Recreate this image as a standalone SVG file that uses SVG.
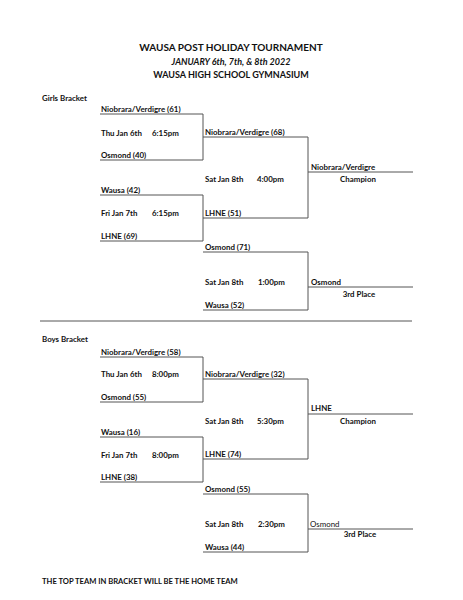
<svg xmlns="http://www.w3.org/2000/svg" width="463" height="600" viewBox="0 0 463 600">
<style>
text{font-family:Lato,"Open Sans","Liberation Sans",sans-serif;font-weight:bold;fill:#111;font-size:7.9px}
.h1{font-size:10px;text-anchor:middle}
.h2{font-size:9px;text-anchor:middle;font-style:italic}
.h3{font-size:9px;text-anchor:middle}
.mid{text-anchor:middle}
.reg{font-weight:normal}
.ft{font-size:7.6px}
.ln{fill:none;stroke:#555;stroke-width:1}
</style>
<rect width="463" height="600" fill="#fff"/>
<g id="header">
<text class="h1" x="231" y="51">WAUSA POST HOLIDAY TOURNAMENT</text>
<text class="h2" x="231" y="65">JANUARY 6th, 7th, &amp; 8th 2022</text>
<text class="h3" x="231" y="78">WAUSA HIGH SCHOOL GYMNASIUM</text>
</g>
<g id="connectors" class="ln">
<path class="ln" d="M100 114H203V160H100"/>
<path class="ln" d="M100 195H203V241H100"/>
<path class="ln" d="M203 137H308V218H203"/>
<path class="ln" d="M308 172H413"/>
<path class="ln" d="M203 252H308V310H203"/>
<path class="ln" d="M308 287H413"/>
<path class="ln" d="M40 321H412"/>
<path class="ln" d="M100 357H203V402H100"/>
<path class="ln" d="M100 437H203V482H100"/>
<path class="ln" d="M203 379H308V459H203"/>
<path class="ln" d="M308 414H413"/>
<path class="ln" d="M203 494H308V552H203"/>
<path class="ln" d="M308 529H413"/>
</g>
<g id="girls-label"><text x="42" y="101">Girls Bracket</text></g>
<g id="girls-game1">
<text x="101" y="112">Niobrara/Verdigre (61)</text>
<text x="101" y="136">Thu Jan 6th</text>
<text x="152" y="136">6:15pm</text>
<text x="101" y="158">Osmond (40)</text>
</g>
<g id="girls-game2">
<text x="101" y="193">Wausa (42)</text>
<text x="101" y="216">Fri Jan 7th</text>
<text x="152" y="216">6:15pm</text>
<text x="101" y="239">LHNE (69)</text>
</g>
<g id="girls-final">
<text x="205" y="135">Niobrara/Verdigre (68)</text>
<text x="205" y="182">Sat Jan 8th</text>
<text x="257" y="182">4:00pm</text>
<text x="205" y="216">LHNE (51)</text>
</g>
<g id="girls-champion">
<text x="311" y="170">Niobrara/Verdigre</text>
<text class="mid" x="358" y="182">Champion</text>
</g>
<g id="girls-third-game">
<text x="205" y="250">Osmond (71)</text>
<text x="205" y="285">Sat Jan 8th</text>
<text x="258" y="285">1:00pm</text>
<text x="205" y="308">Wausa (52)</text>
</g>
<g id="girls-third">
<text x="311" y="285">Osmond</text>
<text class="mid" x="359" y="297">3rd Place</text>
</g>
<g id="boys-label"><text x="42" y="342">Boys Bracket</text></g>
<g id="boys-game1">
<text x="101" y="355">Niobrara/Verdigre (58)</text>
<text x="101" y="377">Thu Jan 6th</text>
<text x="152" y="377">8:00pm</text>
<text x="101" y="400">Osmond (55)</text>
</g>
<g id="boys-game2">
<text x="101" y="435">Wausa (16)</text>
<text x="101" y="458">Fri Jan 7th</text>
<text x="152" y="458">8:00pm</text>
<text x="101" y="480">LHNE (38)</text>
</g>
<g id="boys-final">
<text x="205" y="377">Niobrara/Verdigre (32)</text>
<text x="205" y="424">Sat Jan 8th</text>
<text x="257" y="424">5:30pm</text>
<text x="205" y="457">LHNE (74)</text>
</g>
<g id="boys-champion">
<text x="311" y="411">LHNE</text>
<text class="mid" x="358" y="424">Champion</text>
</g>
<g id="boys-third-game">
<text x="205" y="492">Osmond (55)</text>
<text x="205" y="527">Sat Jan 8th</text>
<text x="258" y="527">2:30pm</text>
<text x="205" y="550">Wausa (44)</text>
</g>
<g id="boys-third">
<text class="reg" x="310" y="527">Osmond</text>
<text class="mid" x="360" y="537">3rd Place</text>
</g>
<g id="footer"><text class="ft" x="42" y="584">THE TOP TEAM IN BRACKET WILL BE THE HOME TEAM</text></g>
</svg>
